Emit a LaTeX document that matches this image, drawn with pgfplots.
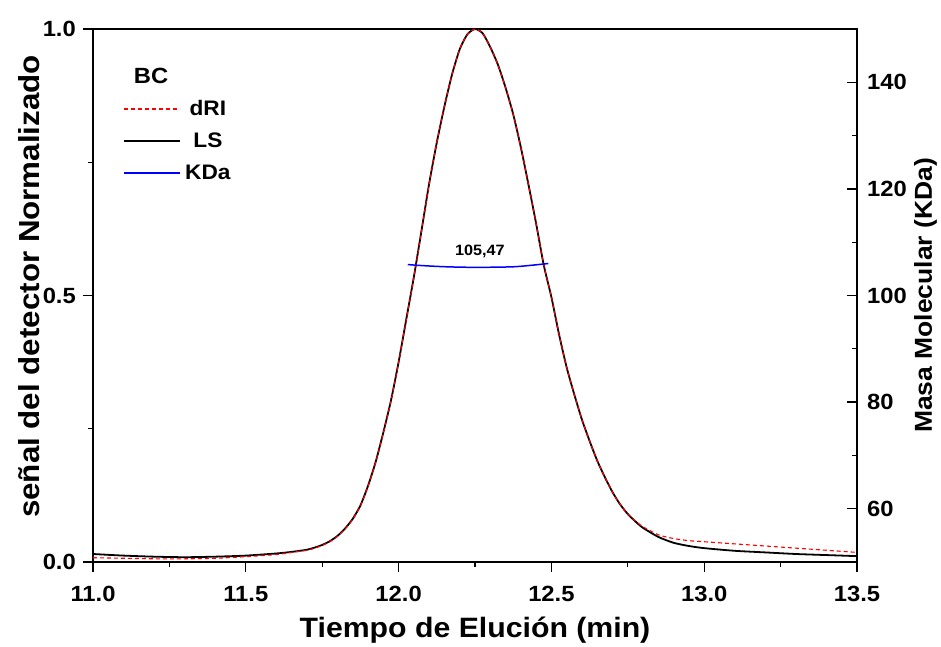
\documentclass[border=0pt]{standalone}
\usepackage{fontspec}
\setmainfont{Liberation Sans}[FakeStretch=1.08]
\usepackage{pgfplots}
\usepackage{pgfplotstable}
\pgfplotsset{compat=1.18}

\pgfplotstableread{
t y
11.00 0.015
11.10 0.012
11.20 0.010
11.30 0.009
11.40 0.010
11.50 0.012
11.60 0.016
11.65 0.019
11.70 0.023
11.725 0.027
11.75 0.032
11.775 0.039
11.80 0.049
11.825 0.063
11.85 0.081
11.875 0.106
11.90 0.143
11.925 0.188
11.95 0.243
11.975 0.303
12.00 0.375
12.025 0.455
12.05 0.535
12.075 0.622
12.10 0.710
12.125 0.787
12.15 0.855
12.175 0.915
12.20 0.962
12.225 0.990
12.25 1.000
12.275 0.992
12.30 0.966
12.325 0.933
12.35 0.890
12.375 0.840
12.40 0.778
12.425 0.708
12.45 0.635
12.475 0.557
12.50 0.497
12.525 0.427
12.55 0.365
12.575 0.314
12.60 0.267
12.625 0.227
12.65 0.190
12.675 0.159
12.70 0.131
12.725 0.108
12.75 0.090
12.775 0.076
12.80 0.064
12.85 0.047
12.90 0.036
12.95 0.030
13.00 0.026
13.10 0.021
13.20 0.018
13.30 0.015
13.40 0.013
13.50 0.011
}\lsdata

\pgfplotstableread{
t y
11.00 0.008
11.10 0.007
11.20 0.006
11.30 0.006
11.40 0.007
11.50 0.010
11.60 0.014
11.65 0.018
11.70 0.022
11.725 0.026
11.75 0.031
11.775 0.038
11.80 0.048
11.825 0.062
11.85 0.080
11.875 0.105
11.90 0.142
11.925 0.187
11.95 0.242
11.975 0.302
12.00 0.374
12.025 0.454
12.05 0.534
12.075 0.621
12.10 0.709
12.125 0.787
12.15 0.855
12.175 0.915
12.20 0.962
12.225 0.990
12.25 1.000
12.275 0.992
12.30 0.966
12.325 0.933
12.35 0.890
12.375 0.840
12.40 0.778
12.425 0.708
12.45 0.635
12.475 0.557
12.50 0.497
12.525 0.427
12.55 0.365
12.575 0.314
12.60 0.267
12.625 0.227
12.65 0.190
12.675 0.159
12.70 0.131
12.725 0.108
12.75 0.090
12.775 0.077
12.80 0.066
12.85 0.051
12.90 0.044
12.95 0.040
13.00 0.038
13.10 0.034
13.20 0.030
13.30 0.026
13.40 0.022
13.50 0.018
}\dridata

\pgfplotstableread{
t m
12.03 105.8
12.08 105.6
12.15 105.4
12.22 105.3
12.30 105.3
12.38 105.4
12.44 105.7
12.49 106.0
}\kdadata

\newcommand{\tickfont}{\fontsize{22bp}{26bp}\selectfont\bfseries}
\newcommand{\labfont}{\fontsize{28bp}{32bp}\selectfont\bfseries}

\begin{document}
\begin{tikzpicture}
\useasboundingbox (-93bp,-85bp) rectangle (848bp,562bp);
\begin{axis}[
  at={(0,0)}, anchor=south west,
  scale only axis, width=764bp, height=533bp,
  xmin=11, xmax=13.5, ymin=0, ymax=1,
  xtick={11,11.5,...,13.5}, ytick={0,0.5,1},
  minor x tick num=1, minor y tick num=1,
  xtick pos=lower, ytick pos=left,
  tick align=outside,
  major tick length=10bp, minor tick length=5bp,
  axis line style={line width=1.6pt},
  every tick/.style={line width=1.3pt, black},
  /pgf/number format/assume math mode=true,
  xticklabel style={font=\tickfont, /pgf/number format/fixed, /pgf/number format/fixed zerofill, /pgf/number format/precision=1, inner sep=0pt, yshift=-14bp},
  yticklabel style={font=\tickfont, /pgf/number format/fixed, /pgf/number format/fixed zerofill, /pgf/number format/precision=1, inner sep=0pt, xshift=-7bp},
  xlabel={Tiempo de Elución (min)},
  ylabel={señal del detector Normalizado},
  xlabel style={font=\labfont, at={(axis description cs:0.5,0)}, anchor=base, yshift=-75bp},
  ylabel style={font=\fontsize{29bp}{33bp}\selectfont\bfseries, at={(axis description cs:-0.0694,0.517)}, anchor=base},
  legend style={draw=none, fill=none, at={(axis description cs:0.0393,0.868)}, anchor=north west,
    inner sep=0pt, row sep=14bp, column sep=3bp,
    font=\fontsize{21bp}{25bp}\selectfont\bfseries,
    nodes={inner sep=1pt}},
  legend image code/.code={\draw[#1] (0bp,0bp) -- (56bp,0bp);},
  clip=false,
]
\addlegendimage{red, line width=1.2pt, dash pattern=on 4bp off 3bp}
\addlegendentry{dRI}
\addlegendimage{black, line width=2pt}
\addlegendentry{LS}
\addlegendimage{blue, line width=2pt}
\addlegendentry{KDa}
\addplot[black, line width=1.8pt, smooth, tension=0.4, forget plot] table[x=t, y=y] {\lsdata};
\addplot[red, line width=1.1pt, smooth, tension=0.4, dash pattern=on 4bp off 3bp, forget plot] table[x=t, y=y] {\dridata};
\node[font=\fontsize{22bp}{26bp}\selectfont\bfseries] at (axis cs:11.19,0.912) {BC};
\node[font=\fontsize{15bp}{18bp}\selectfont\bfseries] at (axis cs:12.266,0.582) {105,47};
\end{axis}
\begin{axis}[
  at={(0,0)}, anchor=south west,
  scale only axis, width=764bp, height=533bp,
  xmin=11, xmax=13.5, ymin=50, ymax=150,
  axis x line=none, axis y line*=right,
  ytick={60,80,...,140}, minor y tick num=1,
  tick align=inside,
  major tick length=10bp, minor tick length=5bp,
  axis line style={line width=1.6pt},
  every tick/.style={line width=1.3pt, black},
  /pgf/number format/assume math mode=true,
  yticklabel style={font=\tickfont, inner sep=0pt, xshift=10bp},
  ylabel={Masa Molecular (KDa)},
  ylabel style={font=\fontsize{24.5bp}{28bp}\selectfont\bfseries, at={(axis description cs:1.098,0.5)}, anchor=base},
]
\addplot[blue, line width=1.5pt, smooth] table[x=t, y=m] {\kdadata};
\end{axis}
\end{tikzpicture}
\end{document}
